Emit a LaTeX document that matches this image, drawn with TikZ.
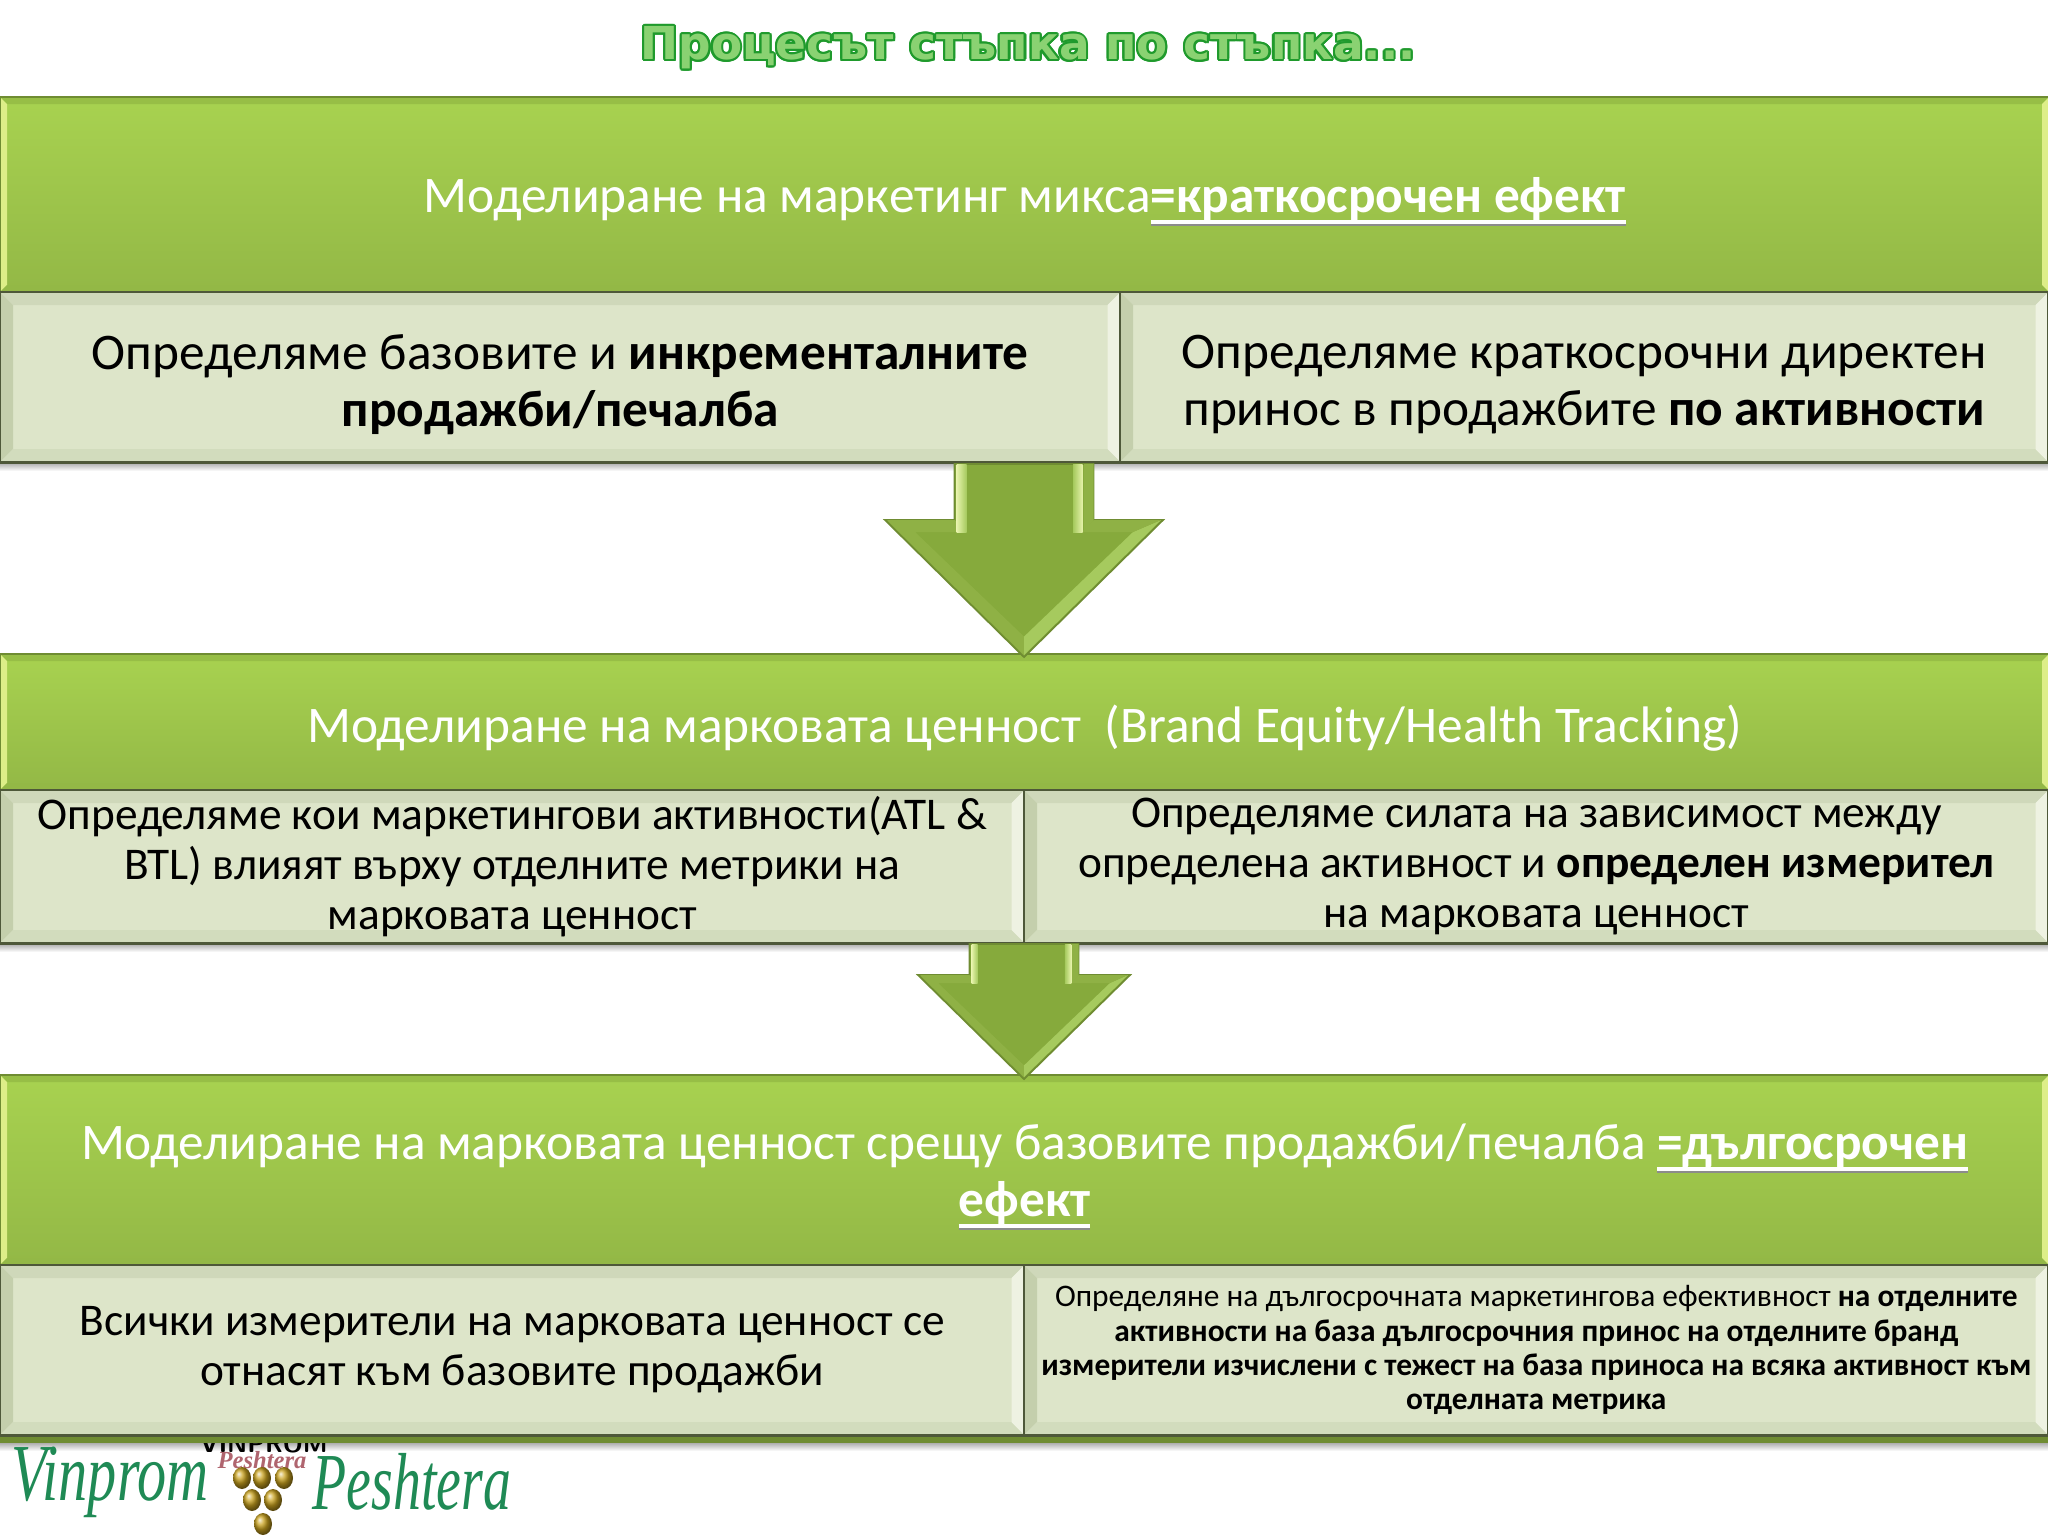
\documentclass[tikz,border=0pt]{standalone}
\usepackage{fontspec}
\usepackage{contour}
\setmainfont{Carlito}
\newfontfamily\titlefont{DejaVu Sans}
\newfontfamily\logofont{Liberation Serif}
\usetikzlibrary{calc}
\usetikzlibrary{backgrounds}
\definecolor{bandtop}{HTML}{A8D250}
\definecolor{bandmid}{HTML}{A0C84C}
\definecolor{bandlow}{HTML}{93B846}
\definecolor{bandline}{HTML}{6F8C32}
\definecolor{bandlit}{HTML}{DDEE88}
\definecolor{bandrim}{HTML}{97BE46}
\definecolor{cellfill}{HTML}{DDE5C9}
\definecolor{celltop}{HTML}{CFD8BA}
\definecolor{cellleft}{HTML}{C4CFAC}
\definecolor{celllow}{HTML}{D2DCBD}
\definecolor{cellright}{HTML}{EEF2E2}
\definecolor{cellline}{HTML}{4E5839}
\definecolor{arrowbody}{HTML}{86AA3C}
\definecolor{arrowlit}{HTML}{A6CA5E}
\definecolor{arrowrim}{HTML}{8FB145}
\definecolor{titlegreen}{HTML}{1F9A2C}
\definecolor{titlefill}{HTML}{8AD272}
\definecolor{logogreen}{HTML}{1F8A55}
\definecolor{logorose}{HTML}{B0656F}
\definecolor{grapegold}{HTML}{C9A21E}
\contourlength{.6pt}
\tikzset{
    band/.style = {anchor=north west, outer sep=0pt, text=white, align=center, inner sep=0pt,
        minimum width=20.48cm, font=\fontsize{14.6}{16.2}\selectfont},
    cell/.style = {anchor=north west, outer sep=0pt, align=center, inner sep=0pt,
        font=\fontsize{14.6}{16.2}\selectfont},
    cellmid/.style = {font=\fontsize{12.9}{14.2}\selectfont},
    cellsmall/.style = {font=\fontsize{8.93}{9.7}\selectfont},
    logoword/.style = {text=logogreen, inner sep=0pt, transform shape,
        font=\logofont\itshape\fontsize{23}{23}\selectfont},
    grape/.style = {ball color=grapegold, shading=ball}
}
\newcommand{\drop}{\rule{0pt}{14pt}}
% bold word with a heavy rule and its shadow below
\newcommand{\thickul}[1]{\setbox0\hbox{\textbf{#1}}%
    \rlap{\color{black!45}\raisebox{-3.9pt}{\rule{\wd0}{1pt}}}%
    \rlap{\raisebox{-3.3pt}{\rule{\wd0}{1pt}}}\box0}
% bevel strips round a box: name, depth, top, left, bottom, right
\newcommand{\bevelbox}[6]{
    \coordinate (nw) at (#1.north west);
    \coordinate (ne) at (#1.north east);
    \coordinate (sw) at (#1.south west);
    \coordinate (se) at (#1.south east);
    \coordinate (inw) at ($(nw)+(#2,#2)$);
    \coordinate (ine) at ($(ne)+(-#2,#2)$);
    \coordinate (isw) at ($(sw)+(#2,-#2)$);
    \coordinate (ise) at ($(se)+(-#2,-#2)$);
    \fill [#3] (nw) -- (ne) -- (ine) -- (inw) -- cycle;
    \fill [#4] (nw) -- (sw) -- (isw) -- (inw) -- cycle;
    \fill [#5] (sw) -- (se) -- (ise) -- (isw) -- cycle;
    \fill [#6] (ne) -- (se) -- (ise) -- (ine) -- cycle;
}
\newcommand{\cellbevel}[1]{
    \fill [cellfill] (#1.north west) rectangle (#1.south east);
    \bevelbox{#1}{13}{celltop}{cellleft}{celllow}{cellright}
    \draw [cellline, line width=.8pt] (#1.north west) rectangle (#1.south east);
}
\newcommand{\bandbevel}[1]{
    \shade [top color=bandtop, middle color=bandmid, bottom color=bandlow] (#1.north west) rectangle (#1.south east);
    \bevelbox{#1}{7}{bandrim}{bandlit}{bandlow}{bandlit}
    \draw [bandline, line width=.6pt] (#1.north west) rectangle (#1.south east);
}
% block arrow: stem half width, head half width, top, head, tip, bevel depth
\newcommand{\blockarrow}[6]{
    \fill [arrowbody, draw=bandline, line width=.5pt]
        ({1024-#1},#3) -- ({1024-#1},#4) -- ({1024-#2},#4) -- (1024,#5)
        -- ({1024+#2},#4) -- ({1024+#1},#4) -- ({1024+#1},#3) -- cycle;
    \fill [arrowrim] ({1024-#2+2},#4) -- ({1024-#1},#4) -- ({1024-#1+#6},{#4+#6})
        -- ({1024-#2+2.5*#6},{#4+#6}) -- (1024,{#5-1.7*#6}) -- (1024,{#5-2}) -- cycle;
    \fill [arrowlit] ({1024+#2-2},#4) -- ({1024+#2-2.5*#6},{#4+#6})
        -- (1024,{#5-1.7*#6}) -- (1024,{#5-2}) -- cycle;
    \fill [arrowrim] ({1024+#2-2},#4) -- ({1024+#1},#4) -- ({1024+#1-#6},{#4+#6})
        -- ({1024+#2-2.5*#6},{#4+#6}) -- cycle;
    \fill [arrowrim] ({1024+#1-.8*#6},#3) -- ({1024+#1},#3) -- ({1024+#1},#4) -- ({1024+#1-.8*#6},{#4+#6}) -- cycle;
    \shade [left color=bandlit!70!white, right color=arrowlit] ({1024-#1+2},#3) rectangle ({1024-#1+#6},{#4+#6});
    \shade [left color=arrowlit, right color=bandlit!70!white] ({1024+#1-1.7*#6},#3) rectangle ({1024+#1-.9*#6},{#4+#6});
}
\begin{document}
\begin{tikzpicture}[x=.01cm, y=-.01cm]
    \useasboundingbox (0,0) rectangle (2048,1536);
    \begin{pgfonlayer}{background}
        \foreach \ya in {462, 943, 1442}
            \shade [top color=black!35, bottom color=white] (0,\ya) rectangle (2048,\ya+9);
        % logo under the lowest band, which covers the top of it
        \node (logoTop) [inner sep=0pt, font=\sffamily\bfseries\fontsize{7.2}{7.2}\selectfont] at (264,1444) {VINPROM};
        \node (logoSub) [inner sep=0pt, text=logorose, font=\logofont\itshape\bfseries\fontsize{7}{7}\selectfont] at (262,1460) {Peshtera};
        \node (logoLeft) [logoword, xscale=.72] at (110,1482) {Vinprom};
        \node (logoRight) [logoword, xscale=.69] at (412,1482) {Peshtera};
        \foreach \gx/\gy in {242/1478, 262/1478, 284/1478, 252/1500, 273/1500, 263/1524}
            \shade [grape] (\gx,\gy) circle [x radius=9, y radius=11];
        \fill [bandline] (0,1430) rectangle (2048,1443);
    \end{pgfonlayer}

    \node (title) [font=\titlefont\bfseries\fontsize{12.9}{16}\selectfont, text=titlefill] at (1028,49)
        {\contour{titlegreen}{Процесът стъпка по стъпка...}};

    \node (bandA) [band, minimum height=1.95cm] at (0,97)
        {\drop Моделиране на маркетинг микса\thickul{=краткосрочен ефект}};
    \node (cellAa) [cell, minimum width=11.2cm, minimum height=1.7cm] at (0,292)
        {\drop Определяме базовите и \textbf{инкременталните}\\ \textbf{продажби/печалба}};
    \node (cellAb) [cell, minimum width=9.28cm, minimum height=1.7cm] at (1120,292)
        {\drop Определяме краткосрочни директен\\ принос в продажбите \textbf{по активности}};

    \node (bandB) [band, minimum height=1.36cm] at (0,654)
        {\drop Моделиране на марковата ценност~~(Brand Equity/Health Tracking)};
    \node (cellBa) [cell, cellmid, minimum width=10.24cm, minimum height=1.53cm] at (0,790)
        {Определяме кои маркетингови активности(ATL \&\\ BTL) влияят върху отделните метрики на\\ марковата ценност};
    \node (cellBb) [cell, cellmid, minimum width=10.24cm, minimum height=1.53cm] at (1024,790)
        {Определяме силата на зависимост между\\ определена активност и \textbf{определен измерител}\\ на марковата ценност};

    \node (bandC) [band, minimum height=1.9cm] at (0,1075)
        {\drop Моделиране на марковата ценност срещу базовите продажби/печалба \thickul{=дългосрочен}\\ \thickul{ефект}};
    \node (cellCa) [cell, cellmid, minimum width=10.24cm, minimum height=1.7cm] at (0,1265)
        {Всички измерители на марковата ценност се\\ отнасят към базовите продажби};
    \node (cellCb) [cell, cellsmall, minimum width=10.24cm, minimum height=1.7cm] at (1024,1265)
        {Определяне на дългосрочната маркетингова ефективност \textbf{на отделните}\\
         \textbf{активности на база дългосрочния принос на отделните бранд}\\
         \textbf{измерители изчислени с тежест на база приноса на всяка активност към}\\
         \textbf{отделната метрика}};

    \begin{pgfonlayer}{background}
        \bandbevel{bandA}
        \bandbevel{bandB}
        \bandbevel{bandC}
        \foreach \cn in {cellAa, cellAb, cellBa, cellBb, cellCa, cellCb}
            {\cellbevel{\cn}}
    \end{pgfonlayer}

    \blockarrow{69.5}{139}{464}{520}{657}{12}
    \blockarrow{54.5}{106}{944}{975}{1079}{8}
\end{tikzpicture}
\end{document}
